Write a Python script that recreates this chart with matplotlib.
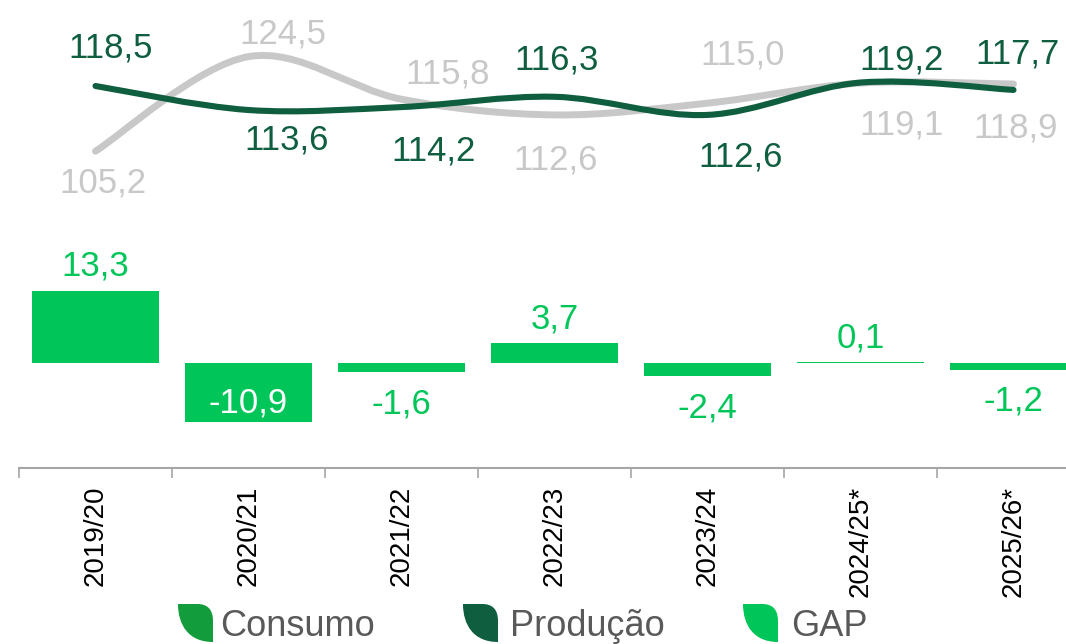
import numpy as np
import matplotlib
matplotlib.use("Agg")
import matplotlib.pyplot as plt
from matplotlib.path import Path
from matplotlib.patches import PathPatch

# ---------------- data ----------------
categories = ["2019/20", "2020/21", "2021/22", "2022/23", "2023/24", "2024/25*", "2025/26*"]
consumo = [105.2, 124.5, 115.8, 112.6, 115.0, 119.1, 118.9]
producao = [118.5, 113.6, 114.2, 116.3, 112.6, 119.2, 117.7]
gap = [13.3, -10.9, -1.6, 3.7, -2.4, 0.1, -1.2]
legend_labels = ["Consumo", "Produção", "GAP"]

# label placement offsets (pixels: dx right, dy down) relative to the point
prod_off = [(15, -41), (38, 27), (32, 41), (2, -40), (33, 39), (41, -26), (4, -39)]
cons_off = [(7, 29), (34, -26), (46, -28), (1, 42), (35, -51), (41, 39), (2, 41)]

# colors
C_CONS = "#C8C8C8"
C_PROD = "#0F5E3F"
C_GAP = "#00C65A"
C_LEG_CONS = "#139C3B"
C_TEXT = "#595959"

plt.rcParams["font.family"] = ["Liberation Sans", "DejaVu Sans"]

W, H, DPI = 1066, 644, 100
fig = plt.figure(figsize=(W / DPI, H / DPI), dpi=DPI)
PX2PT = 72.0 / DPI

left_px, cat_w = 19, 153
right_px = left_px + 7 * cat_w
top_px, bot_px = 0, 468
ax = fig.add_axes([left_px / W, 1 - bot_px / H, (right_px - left_px) / W, (bot_px - top_px) / H])

x = np.arange(len(categories))

# ---------------- bars (GAP) ----------------
ax.bar(x, gap, width=0.836, color=C_GAP, zorder=2)
bar_scale = 5.45  # px per unit
zero_px = 363
ax.set_ylim(-(bot_px - zero_px) / bar_scale, (zero_px - top_px) / bar_scale)
ax.set_xlim(-0.5, 6.5)

LBL_FS = 25
cap_half_px = 0.358 * LBL_FS / PX2PT


def fmt(v):
    return f"{v:.1f}".replace(".", ",")


for i, v in enumerate(gap):
    hpx = abs(v) * bar_scale
    if v >= 0:
        dy, col = -27, C_GAP
    elif hpx > 50:
        dy, col = -22, "white"
    else:
        dy, col = 29, C_GAP
    ax.annotate(fmt(v), xy=(i, v), xytext=(0, -(dy + cap_half_px) * PX2PT),
                textcoords="offset points", ha="center", va="baseline",
                fontsize=LBL_FS, color=col, zorder=5)

for s in ["top", "left", "right"]:
    ax.spines[s].set_visible(False)
ax.spines["bottom"].set_color("#A6A6A6")
ax.spines["bottom"].set_linewidth(1.5)
ax.set_yticks([])
ax.set_xticks(x)
ax.set_xticklabels(categories, rotation=90, fontsize=20, color="black")
ax.set_xticks(np.arange(-0.5, 7.0, 1.0), minor=True)
ax.tick_params(axis="x", which="major", length=0, pad=18 * PX2PT)
ax.tick_params(axis="x", which="minor", length=10 * PX2PT, width=1.2, color="#A6A6A6", direction="out")
ax.patch.set_alpha(0)

# ---------------- lines ----------------
ax2 = ax.twinx()
line_scale = 4.9
ref_v, ref_px = 118.5, 86
ax2.set_ylim(ref_v - (bot_px - ref_px) / line_scale, ref_v + (ref_px - top_px) / line_scale)
ax2.set_xlim(-0.5, 6.5)
ax2.axis("off")


def smooth_path(xs, ys):
    P = np.column_stack([xs, ys]).astype(float)
    n = len(P)
    verts = [P[0]]
    codes = [Path.MOVETO]
    for i in range(n - 1):
        p0 = P[i - 1] if i > 0 else P[i]
        p1 = P[i]
        p2 = P[i + 1]
        p3 = P[i + 2] if i + 2 < n else P[i + 1]
        verts += [p1 + (p2 - p0) / 6.0, p2 - (p3 - p1) / 6.0, p2]
        codes += [Path.CURVE4] * 3
    return Path(verts, codes)


ax2.add_patch(PathPatch(smooth_path(x, consumo), fc="none", ec=C_CONS, lw=5.0,
                        capstyle="round", joinstyle="round", zorder=2))
ax2.add_patch(PathPatch(smooth_path(x, producao), fc="none", ec=C_PROD, lw=4.4,
                        capstyle="round", joinstyle="round", zorder=3))

for vals, offs, col in [(consumo, cons_off, C_CONS), (producao, prod_off, C_PROD)]:
    for i, v in enumerate(vals):
        dx, dy = offs[i]
        ax2.annotate(fmt(v), xy=(i, v), xytext=(dx * PX2PT, -(dy + cap_half_px) * PX2PT),
                     textcoords="offset points", ha="center", va="baseline",
                     fontsize=LBL_FS, color=col, zorder=5)

# ---------------- legend (leaf icons) ----------------
def leaf(x0, y0, w, h, color):
    pts = [(0, 0), (0.55, 0), (0.85, 0), (1, 0.15), (1, 0.45), (1, 1),
           (0.3, 1), (0, 0.55), (0, 0), (0, 0)]
    codes = [Path.MOVETO, Path.LINETO, Path.CURVE4, Path.CURVE4, Path.CURVE4,
             Path.LINETO, Path.CURVE4, Path.CURVE4, Path.CURVE4, Path.CLOSEPOLY]
    verts = [((x0 + u * w) / W, 1 - (y0 + v * h) / H) for u, v in pts]
    fig.add_artist(PathPatch(Path(verts, codes), transform=fig.transFigure,
                             fc=color, ec="none"))


leg_items = [(178, 220, C_LEG_CONS), (463, 510, C_PROD), (743, 791, C_GAP)]
for label, (lx, tx, col) in zip(legend_labels, leg_items):
    leaf(lx, 604, 35, 38, col)
    fig.text(tx / W, 1 - 636 / H, label, fontsize=26, color=C_TEXT, ha="left", va="baseline")

fig.savefig("out.png", dpi=DPI)
